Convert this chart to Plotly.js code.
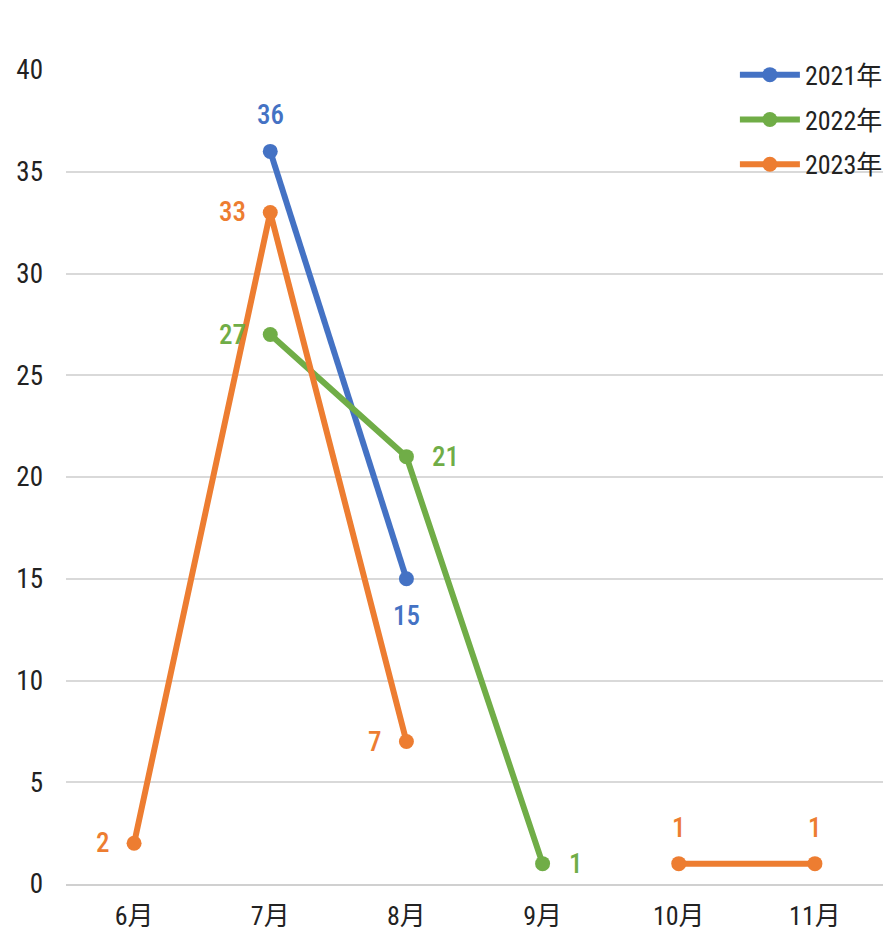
<!DOCTYPE html>
<html><head><meta charset="utf-8">
<script src="https://cdn.plot.ly/plotly-3.0.1.min.js"></script>
<style>html,body{margin:0;padding:0;background:#fff;}#chart{width:886px;height:931px;}
#chart svg text{font-stretch:condensed;}</style>
</head><body><div id="chart"></div>
<script>
const months = ['6月','7月','8月','9月','10月','11月'];
const seriesNames = ['2021年','2022年','2023年'];
const v2021 = [null, 36, 15, null, null, null];
const v2022 = [null, 27, 21, 1, null, null];
const v2023 = [2, 33, 7, null, 1, 1];
// label placement per point: t=above, b=below, l=left, r=right
const pos2021 = ['t','t','b','t','t','t'];
const pos2022 = ['l','l','r','r','r','r'];
const pos2023 = ['l','l','l','t','t','t'];
const colors = ['#4472C4','#70AD47','#ED7D31'];
const FONT = 'Roboto Condensed, Roboto, Noto Sans CJK JP, sans-serif';

function mk(vals, name, color, i){
  return {
    x: months, y: vals, name: name, type:'scatter', mode:'lines+markers',
    connectgaps:false, legendgroup:'g'+i,
    line:{color:color, width:6},
    marker:{color:color, size:15},
    cliponaxis:false, hoverinfo:'skip'
  };
}
function labels(vals, pos, color){
  const out = [];
  vals.forEach((v, k) => {
    if (v === null) return;
    const p = pos[k];
    const a = {x: months[k], y: v, xref:'x', yref:'y', text: String(v), showarrow:false,
      font:{color:color, size:27, family:FONT, weight:500}};
    if (p==='t'){ a.yshift = 36; }
    if (p==='b'){ a.yshift = -37; }
    if (p==='l'){ a.xanchor='right'; a.xshift = -22; }
    if (p==='r'){ a.xanchor='left'; a.xshift = 24; }
    out.push(a);
  });
  return out;
}
const data = [
  mk(v2021,seriesNames[0],colors[0],0),
  mk(v2022,seriesNames[1],colors[1],1),
  mk(v2023,seriesNames[2],colors[2],2)
];
const annotations = [].concat(
  labels(v2021,pos2021,colors[0]),
  labels(v2022,pos2022,colors[1]),
  labels(v2023,pos2023,colors[2])
);
const layout = {
  width:886, height:931,
  margin:{l:66, r:3, t:70, b:47, autoexpand:false},
  paper_bgcolor:'#fff', plot_bgcolor:'#fff',
  font:{family:FONT, size:24, color:'#222'},
  showlegend:true,
  annotations: annotations,
  legend:{x:1.006, xanchor:'right', y:1.023, yanchor:'top', bgcolor:'rgba(0,0,0,0)',
    font:{size:26, family:FONT, color:'#222'}, tracegroupgap:8, itemwidth:60},
  xaxis:{type:'category', categoryarray:months, range:[-0.5,5.5], showgrid:false,
    zeroline:false, showline:true, linecolor:'#d0d0d0', linewidth:2, ticks:'',
    tickfont:{size:26, family:FONT, color:'#222'}, ticklabelstandoff:8},
  yaxis:{range:[0,40], dtick:5, showgrid:true, gridcolor:'#d9d9d9', gridwidth:2,
    zeroline:false, showline:false, ticks:'',
    tickfont:{size:27, family:FONT, color:'#222'}, ticklabelstandoff:22}
};
Plotly.newPlot('chart', data, layout, {displayModeBar:false, staticPlot:true});
</script></body></html>
